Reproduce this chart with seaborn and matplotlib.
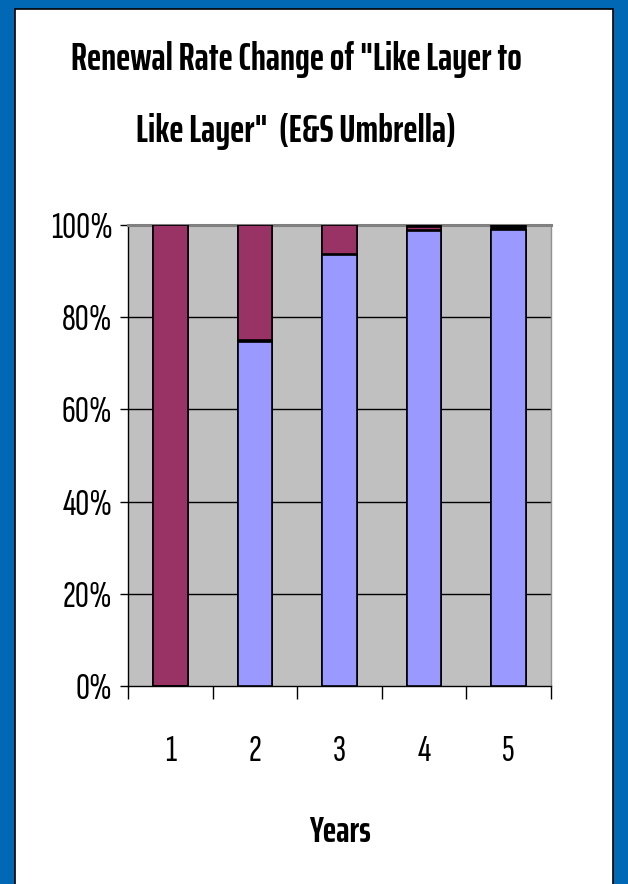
import matplotlib
matplotlib.use("Agg")
import matplotlib.pyplot as plt
from matplotlib.patches import Rectangle
from matplotlib.ticker import FixedLocator, PercentFormatter
import numpy as np
import pandas as pd
import seaborn as sns

# ---- data (percent of renewals, stacked bottom -> top) ----
years = ["1", "2", "3", "4", "5"]
like_layer = [0.0, 74.6, 93.4, 98.6, 99.0]      # periwinkle
sep_low = [0.0, 0.4, 0.4, 0.4, 0.0]            # black
other_layer = [100.0, 25.0, 6.2, 0.6, 0.0]     # maroon
sep_top = [0.0, 0.0, 0.0, 0.4, 1.0]            # black
yticks = [0, 20, 40, 60, 80, 100]

sns.set_theme(style="white")
tick_fonts = ["Sofia Sans Extra Condensed", "Fira Sans Extra Condensed", "Roboto Condensed", "DejaVu Sans"]
bold_fonts = ["Saira ExtraCondensed", "Barlow Condensed", "Roboto Condensed", "DejaVu Sans"]
plt.rcParams["font.family"] = tick_fonts

fig = plt.figure(figsize=(6.28, 8.84), dpi=100)
fig.patch.set_facecolor("#0068B4")
fig.patches.append(Rectangle((15 / 628, -0.01), 598 / 628, 1 - 9 / 884 + 0.01,
                             transform=fig.transFigure, facecolor="white",
                             edgecolor="black", linewidth=1.2, zorder=-5))

ax = fig.add_axes([128 / 628, 1 - 686 / 884, 423 / 628, 461 / 884])
ax.set_facecolor("#C0C0C0")

df = pd.DataFrame({"year": years, "a": like_layer, "b": sep_low,
                   "c": other_layer, "d": sep_top})
df["cum_a"] = df["a"]
df["cum_b"] = df["cum_a"] + df["b"]
df["cum_c"] = df["cum_b"] + df["c"]
df["cum_d"] = df["cum_c"] + df["d"]

layers = [("cum_d", "black"), ("cum_c", "#993366"), ("cum_b", "black"), ("cum_a", "#9999FF")]
for col, colr in layers:
    sns.barplot(data=df, x="year", y=col, color=colr, saturation=1, width=0.41,
                edgecolor="black", linewidth=1.2, ax=ax, zorder=3)

ax.set_xlim(-0.5, 4.5)
ax.set_ylim(0, 100)
ax.yaxis.set_major_locator(FixedLocator(yticks))
ax.yaxis.set_major_formatter(PercentFormatter(decimals=0))
for y in yticks[1:-1]:
    ax.axhline(y, color="black", linewidth=1.0, zorder=1)

for s in ["left", "bottom"]:
    ax.spines[s].set_color("black")
    ax.spines[s].set_linewidth(1.0)
ax.spines["top"].set_color("#808080")
ax.spines["top"].set_linewidth(2.2)
ax.spines["right"].set_color("#909090")
ax.spines["right"].set_linewidth(1.0)

ax.tick_params(axis="y", which="major", left=True, direction="out", length=6,
               width=1, color="black", pad=5, labelsize=28, labelcolor="black")
ax.set_xticks(np.arange(5))
ax.set_xticklabels(years)
ax.set_xticks(np.arange(-0.5, 5.0, 1.0), minor=True)
ax.tick_params(axis="x", which="major", bottom=True, length=0, pad=35,
               labelsize=28, labelcolor="black")
ax.tick_params(axis="x", which="minor", bottom=True, direction="out", length=9,
               width=1, color="black")
ax.set_xlabel("")
ax.set_ylabel("")

fig.text(296 / 628, 1 - 60 / 884, 'Renewal Rate Change of "Like Layer to',
         ha="center", va="center", fontsize=27.5, fontweight="bold",
         family=bold_fonts, color="black")
fig.text(296 / 628, 1 - 131 / 884, 'Like Layer"  (E&S Umbrella)',
         ha="center", va="center", fontsize=27.5, fontweight="bold",
         family=bold_fonts, color="black")
fig.text(340 / 628, 1 - 832 / 884, "Years", ha="center", va="center",
         fontsize=26, fontweight="bold", family=bold_fonts, color="black")

fig.savefig("out.png", dpi=100, facecolor=fig.get_facecolor())
